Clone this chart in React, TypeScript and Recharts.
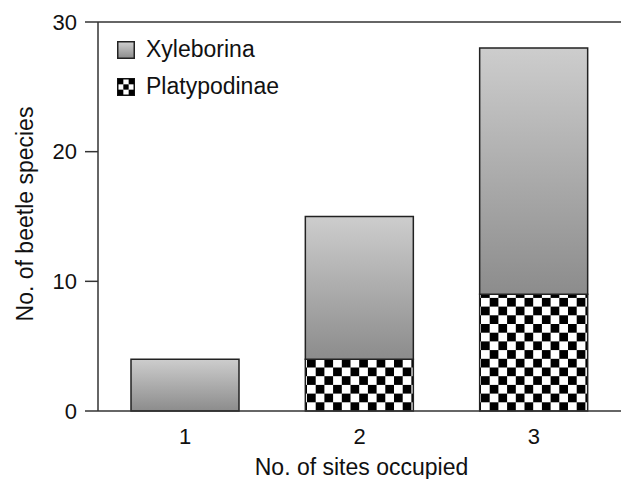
import React from 'react';
import { BarChart, Bar, XAxis, YAxis, ReferenceLine } from 'recharts';

const sites = ['1', '2', '3'];
const xyleborina = [4, 11, 19];
const platypodinae = [0, 4, 9];
const yTicks = [0, 10, 20, 30];

const data = sites.map((s, i) => ({
  site: s,
  xyleborina: xyleborina[i],
  platypodinae: platypodinae[i],
}));

const FONT = '"Liberation Sans", Arial, Helvetica, sans-serif';
const CELL = 8.7;

function LegendSwatch({ kind }: { kind: 'grad' | 'check' }) {
  return (
    <svg width={18} height={18} style={{ display: 'block' }}>
      <defs>
        <linearGradient id="lgGrad" x1="0" y1="0" x2="0" y2="1">
          <stop offset="0%" stopColor="#d0d0d0" />
          <stop offset="100%" stopColor="#8c8c8c" />
        </linearGradient>
      </defs>
      {kind === 'grad' ? (
        <rect x={0.75} y={0.75} width={16.5} height={16.5} fill="url(#lgGrad)" stroke="#222" strokeWidth={1.5} />
      ) : (
        <g>
          <rect x={0.75} y={0.75} width={16.5} height={16.5} fill="#fff" stroke="#111" strokeWidth={1.5} />
          {[0, 1, 2].map((r) =>
            [0, 1, 2].map((c) =>
              (r + c) % 2 === 0 ? (
                <rect key={`${r}-${c}`} x={1 + c * 5.33} y={1 + r * 5.33} width={5.33} height={5.33} fill="#000" />
              ) : null
            )
          )}
        </g>
      )}
    </svg>
  );
}

function ChartLegend() {
  const items: { label: string; kind: 'grad' | 'check' }[] = [
    { label: 'Xyleborina', kind: 'grad' },
    { label: 'Platypodinae', kind: 'check' },
  ];
  return (
    <div
      style={{
        position: 'absolute',
        left: 117,
        top: 31,
        fontFamily: FONT,
        fontSize: 23,
        color: '#111',
        pointerEvents: 'none',
      }}
    >
      {items.map((it) => (
        <div key={it.label} style={{ display: 'flex', alignItems: 'center', height: 37 }}>
          <LegendSwatch kind={it.kind} />
          <span style={{ marginLeft: 11 }}>{it.label}</span>
        </div>
      ))}
    </div>
  );
}

export default function App() {
  return (
    <div style={{ position: 'absolute', left: 0, top: 0, width: 621, height: 479, background: '#fff' }}>
      <BarChart
        width={621}
        height={479}
        data={data}
        margin={{ top: 22, right: 0, bottom: 0, left: 0 }}
        style={{ fontFamily: FONT }}
      >
        <defs>
          <linearGradient id="barGrad" x1="0" y1="0" x2="0" y2="1">
            <stop offset="0%" stopColor="#cdcdcd" />
            <stop offset="100%" stopColor="#8c8c8c" />
          </linearGradient>
          <pattern id="checker" patternUnits="userSpaceOnUse" x={307} y={411} width={CELL * 2} height={CELL * 2}>
            <rect x={0} y={0} width={CELL * 2} height={CELL * 2} fill="#fff" />
            <rect x={0} y={0} width={CELL} height={CELL} fill="#000" />
            <rect x={CELL} y={CELL} width={CELL} height={CELL} fill="#000" />
          </pattern>
        </defs>
        <XAxis
          dataKey="site"
          height={68}
          tickLine={false}
          tickSize={0}
          tickMargin={17}
          axisLine={{ stroke: '#333', strokeWidth: 1.5 }}
          tick={{ fill: '#111', fontSize: 22, fontFamily: FONT }}
          label={{
            content: ({ viewBox }: any) => (
              <text
                x={viewBox.x + viewBox.width / 2 + 2}
                y={475}
                textAnchor="middle"
                fill="#111"
                fontSize={23}
                fontFamily={FONT}
              >
                No. of sites occupied
              </text>
            ),
          }}
        />
        <YAxis
          width={98}
          domain={[0, 30]}
          ticks={yTicks}
          interval={0}
          tickSize={13}
          tickMargin={8}
          axisLine={{ stroke: '#333', strokeWidth: 1.5 }}
          tickLine={{ stroke: '#333', strokeWidth: 1.5 }}
          tick={{ fill: '#111', fontSize: 22, fontFamily: FONT }}
          label={{
            content: () => (
              <text
                x={25}
                y={214}
                transform="rotate(-90, 25, 214)"
                textAnchor="middle"
                dominantBaseline="central"
                fill="#111"
                fontSize={23}
                fontFamily={FONT}
              >
                No. of beetle species
              </text>
            ),
          }}
        />
        <ReferenceLine y={30} stroke="#333" strokeWidth={1.5} />
        <Bar
          dataKey="platypodinae"
          stackId="a"
          barSize={108}
          fill="url(#checker)"
          stroke="#222"
          strokeWidth={1.5}
          isAnimationActive={false}
        />
        <Bar
          dataKey="xyleborina"
          stackId="a"
          barSize={108}
          fill="url(#barGrad)"
          stroke="#222"
          strokeWidth={1.5}
          isAnimationActive={false}
        />
      </BarChart>
      <ChartLegend />
    </div>
  );
}
